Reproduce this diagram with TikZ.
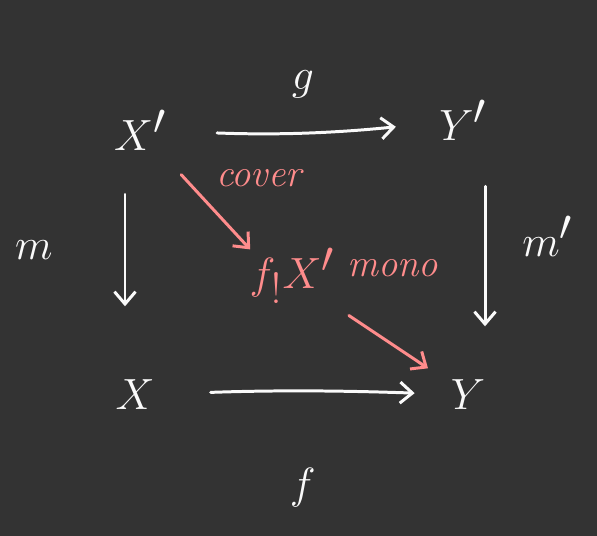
\documentclass[tikz,border=0pt]{standalone}
\usepackage{amsmath,amssymb}
\usepackage{xcolor}
\usepackage{tikz}
\usetikzlibrary{arrows.meta,calc,positioning}
\definecolor{Pizarra}{RGB}{51,51,51}
\definecolor{Tiza}{RGB}{250,250,250}
\definecolor{RosaTiza}{RGB}{255,140,140}

\begin{document}
\begin{tikzpicture}[x=0.02cm,y=-0.02cm,>={Straight Barb[length=7pt,width=12pt]},
  obj/.style={text=Tiza,font=\fontsize{40}{44}\selectfont},
  lbl/.style={text=Tiza,font=\fontsize{34}{38}\selectfont},
  nota/.style={text=RosaTiza,font=\fontsize{22}{26}\selectfont\itshape},
  flecha/.style={->,Tiza,line width=1.7pt,line cap=round},
  flechaRosa/.style={->,RosaTiza,line width=1.7pt,line cap=round}]
  \fill[Pizarra] (0,0) rectangle (597,536);
  \useasboundingbox (0,0) rectangle (597,536);
  % objetos del cuadrado
  \node[obj] (Xp) at (140,130) {$X'$};
  \node[obj] (Yp) at (463,120) {$Y'$};
  \node[obj] (X) at (135,395) {$X$};
  \node[obj] (Y) at (468,395) {$Y$};
  \node[obj,text=RosaTiza,font=\fontsize{36}{40}\selectfont] (fX) at (292,276) {$f_!X'$};
  % flechas blancas
  \draw[flecha,shorten <=0.9cm,shorten >=0.75cm] (Xp) to[bend right=4] node[lbl,midway,above=0.55cm] (g) {$g$} (Yp);
  \draw[flecha] (Xp.south) ++(-15,38) -- ++(0,112) node[lbl,midway,left=1.3cm] (m) {$m$};
  \draw[flecha] (Yp.south) ++(22,40) -- ++(0,140) node[lbl,midway,right=0.6cm,yshift=0.4cm] (mp) {$m'$};
  \draw[flecha,shorten <=1.0cm,shorten >=0.6cm] (X) to[bend left=2] node[lbl,midway,below=1.4cm] (f) {$f$} (Y);
  % flechas rosas
  \draw[flechaRosa,shorten <=0.5cm,shorten >=-0.2cm] (Xp) -- node[nota,midway,above right=0.1cm and 0.1cm] (cov) {cover} (fX.north west);
  \draw[flechaRosa,shorten <=0.2cm,shorten >=0.4cm] (fX.south east) -- node[nota,midway,above=1.2cm] (mon) {mono} (Y);
\end{tikzpicture}
\end{document}
